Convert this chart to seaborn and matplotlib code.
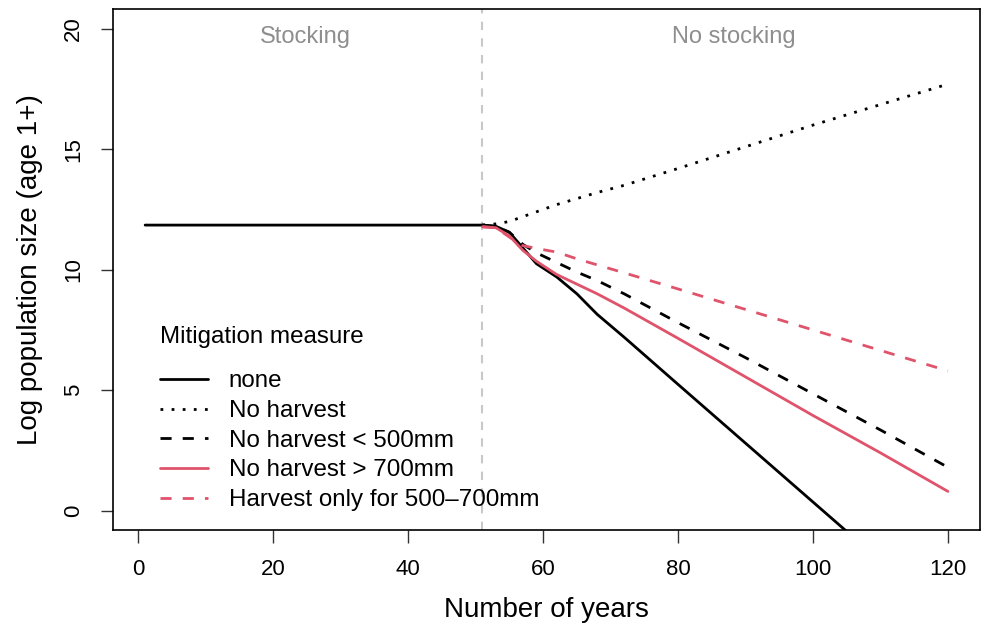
import matplotlib
matplotlib.use("Agg")
import matplotlib.pyplot as plt
import pandas as pd
import seaborn as sns

# Values
measures = ['none', 'No harvest', 'No harvest < 500mm',
            'No harvest > 700mm', 'Harvest only for 500–700mm']

years_none = [1, 51, 53, 55, 57, 59, 62, 65, 68, 72, 80, 90, 100, 110, 120]
none = [11.85, 11.85, 11.8, 11.55, 10.9, 10.25, 9.7, 9.0, 8.15, 7.2, 5.24, 2.8, 0.36, -2.08, -4.5]

years_post = [51, 53, 55, 57, 59, 62, 65, 68, 72, 80, 90, 100, 110, 120]
no_harvest = [11.85, 11.9, 12.0, 12.2, 12.4, 12.7, 12.95, 13.2, 13.5, 14.2, 15.1, 16.0, 16.85, 17.7]
no_harvest_lt500 = [11.85, 11.8, 11.55, 11.05, 10.7, 10.3, 9.9, 9.55, 9.0, 7.8, 6.35, 4.85, 3.35, 1.8]
no_harvest_gt700 = [11.78, 11.74, 11.4, 10.8, 10.35, 9.8, 9.4, 9.0, 8.41, 7.15, 5.55, 3.95, 2.4, 0.8]
harvest_500_700 = [11.78, 11.74, 11.35, 11.0, 10.88, 10.73, 10.45, 10.2, 9.87, 9.2, 8.35, 7.5, 6.65, 5.8]

xticks = [0, 20, 40, 60, 80, 100, 120]
yticks = [0, 5, 10, 15, 20]
stocking_end = 51

frames = [pd.DataFrame({'year': years_none, 'value': none, 'measure': measures[0]})]
for name, vals in zip(measures[1:], [no_harvest, no_harvest_lt500, no_harvest_gt700, harvest_500_700]):
    frames.append(pd.DataFrame({'year': years_post, 'value': vals, 'measure': name}))
df = pd.concat(frames, ignore_index=True)

sns.set_style("ticks")
plt.rcParams['font.family'] = ['Liberation Sans', 'DejaVu Sans']
plt.rcParams.update({'text.color': 'black', 'axes.labelcolor': 'black',
                     'xtick.color': 'black', 'ytick.color': 'black',
                     'axes.edgecolor': 'black'})

red = '#DF536B'
palette = dict(zip(measures, ['black', 'black', 'black', red, red]))
dashes = dict(zip(measures, ['', (1, 3), (4, 4), '', (4, 4)]))

fig, ax = plt.subplots(figsize=(9.81, 6.26), dpi=100)
fig.subplots_adjust(left=0.1152, right=0.999, bottom=0.1534, top=0.985)

ax.axvline(stocking_end, color='#c8c8c8', lw=1.5, ls=(0, (4, 4)), zorder=0)

sns.lineplot(data=df, x='year', y='value', hue='measure', style='measure',
             hue_order=measures, style_order=measures,
             palette=palette, dashes=dashes, linewidth=2,
             estimator=None, sort=False, ax=ax)

ax.text(24.8, 19.65, 'Stocking', color='#8e8e8e', fontsize=17, ha='center', va='center')
ax.text(88.2, 19.65, 'No stocking', color='#8e8e8e', fontsize=17, ha='center', va='center')

ax.set_xlim(-3.76, 124.76)
ax.set_ylim(-0.8, 20.8)
ax.set_xticks(xticks)
ax.set_yticks(yticks)
ax.tick_params(axis='both', labelsize=16, length=9, width=1, pad=12, color='#333333')
for lab in ax.get_yticklabels():
    lab.set_rotation(90)
    lab.set_va('center')
for s in ax.spines.values():
    s.set_visible(True)
    s.set_linewidth(1.2)
    s.set_color('black')

ax.set_xlabel('Number of years', fontsize=20, labelpad=12)
ax.set_ylabel('Log population size (age 1+)', fontsize=20, labelpad=14)

sns.move_legend(ax, 'lower left', bbox_to_anchor=(0.054, 0.036), frameon=False,
                title='Mitigation measure', fontsize=17.4, title_fontsize=17.4,
                handlelength=2.0, handletextpad=0.85, labelspacing=0.32,
                borderpad=0, borderaxespad=0, alignment='left')
leg = ax.get_legend()
leg._legend_box.sep = 16

fig.savefig('out.png', dpi=100)
